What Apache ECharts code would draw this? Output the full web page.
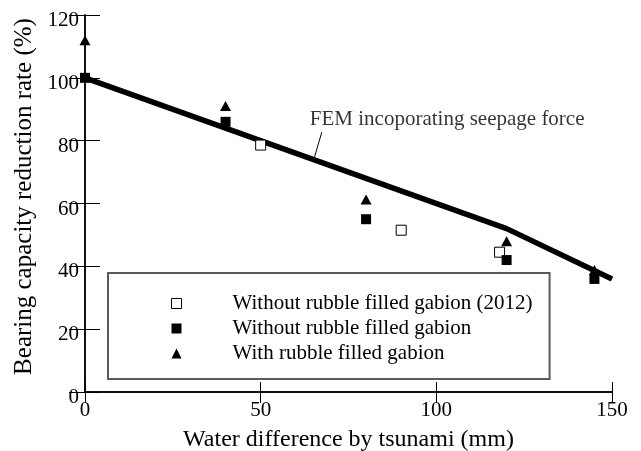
<!DOCTYPE html>
<html>
<head>
<meta charset="utf-8">
<script src="https://cdn.jsdelivr.net/npm/echarts@6/dist/echarts.min.js"></script>
<style>html,body{margin:0;padding:0;background:#fff;}#c{width:641px;height:451px;}</style>
</head>
<body>
<div id="c"></div>
<script>
// Data
var xTicksLabel = 'Water difference by tsunami (mm)';
var yTicksLabel = 'Bearing capacity reduction rate (%)';
var seriesNames = ['Without rubble filled gabion (2012)', 'Without rubble filled gabion', 'With rubble filled gabion'];

var open2012X = [50, 90, 118];
var open2012Y = [78.6, 51.5, 44.5];

var filledX = [0, 40, 80, 120, 145];
var filledY = [100, 86, 55, 42, 36];

var triX = [0, 40, 80, 120, 145];
var triY = [112, 91, 61.3, 48, 38.8];

var femX = [0, 120, 150];
var femY = [100, 52, 36];

var femLabel = 'FEM incoporating seepage force';
var femLabelX = [64];
var femLabelY = [86.8];
var leaderX = [65.3, 67.4];
var leaderY = [74.7, 82.7];

function zip(a, b) { return a.map(function (v, i) { return [v, b[i]]; }); }

var FONT = "'Liberation Serif','Times New Roman',serif";
var chart = echarts.init(document.getElementById('c'), null, {renderer: 'canvas'});

var axisLineStyle = {color: '#000', width: 1.5};

chart.setOption({
  animation: false,
  backgroundColor: '#fff',
  textStyle: {fontFamily: FONT, color: '#000'},
  grid: {left: 85, right: 29, top: 15, bottom: 59, containLabel: false, outerBoundsMode: 'none'},
  legend: {
    orient: 'vertical',
    left: 108, top: 273,
    padding: [20, 17, 15, 63],
    itemGap: 4,
    itemWidth: 10, itemHeight: 10,
    borderColor: '#5a5a5a', borderWidth: 2,
    backgroundColor: '#fff',
    itemStyle: {borderWidth: 1},
    data: seriesNames,
    textStyle: {fontFamily: FONT, fontSize: 21, color: '#000', lineHeight: 21, padding: [0, 0, 0, 46]}
  },
  xAxis: [{
    type: 'value', position: 'bottom', min: 0, max: 150, interval: 50,
    name: xTicksLabel, nameLocation: 'middle', nameGap: 36,
    nameTextStyle: {fontFamily: FONT, fontSize: 24, color: '#000'},
    axisLine: {show: true, lineStyle: axisLineStyle},
    axisTick: {show: true, inside: true, length: 10, lineStyle: {color: '#000', width: 1}},
    axisLabel: {fontFamily: FONT, fontSize: 21, color: '#000', margin: 8},
    splitLine: {show: false}
  }, {
    type: 'value', position: 'top', min: 0, max: 150, interval: 50,
    axisLine: {show: true, lineStyle: axisLineStyle},
    axisTick: {show: true, inside: true, length: 11, lineStyle: {color: '#000', width: 1}},
    axisLabel: {show: false},
    splitLine: {show: false}
  }],
  yAxis: [{
    type: 'value', position: 'left', min: 0, max: 120, interval: 20,
    name: yTicksLabel, nameLocation: 'middle', nameGap: 46,
    nameTextStyle: {fontFamily: FONT, fontSize: 25, color: '#000', padding: [0, 0, 0, 14]},
    axisLine: {show: true, lineStyle: axisLineStyle},
    axisTick: {show: true, inside: true, length: 15, lineStyle: {color: '#000', width: 1}},
    axisLabel: {fontFamily: FONT, fontSize: 21, color: '#000', margin: 6, verticalAlign: 'top', lineHeight: 11},
    splitLine: {show: false}
  }, {
    type: 'value', position: 'right', min: 0, max: 120, interval: 20,
    axisLine: {show: true, lineStyle: axisLineStyle},
    axisTick: {show: true, inside: true, length: 16, lineStyle: {color: '#000', width: 1}},
    axisLabel: {show: false},
    splitLine: {show: false}
  }],
  series: [{
    name: 'FEM', type: 'line', data: zip(femX, femY),
    symbol: 'none', lineStyle: {color: '#000', width: 5.5}, z: 2, silent: true
  }, {
    name: 'leader', type: 'line', data: zip(leaderX, leaderY),
    symbol: 'none', lineStyle: {color: '#000', width: 1}, z: 2, silent: true
  }, {
    name: 'femText', type: 'scatter', data: zip(femLabelX, femLabelY),
    symbolSize: 0, z: 3, silent: true,
    label: {show: true, position: 'right', distance: 0, formatter: femLabel,
      fontFamily: FONT, fontSize: 21, color: '#000', align: 'left', verticalAlign: 'middle'}
  }, {
    name: seriesNames[2], type: 'scatter', data: zip(triX, triY),
    symbol: 'triangle', symbolSize: [11, 10], z: 4,
    itemStyle: {color: '#000', opacity: 1}
  }, {
    name: seriesNames[0], type: 'scatter', data: zip(open2012X, open2012Y),
    symbol: 'rect', symbolSize: 10, z: 5,
    itemStyle: {color: '#fff', borderColor: '#000', borderWidth: 1, opacity: 1}
  }, {
    name: seriesNames[1], type: 'scatter', data: zip(filledX, filledY),
    symbol: 'rect', symbolSize: 10, z: 5,
    itemStyle: {color: '#000', opacity: 1}
  }]
});
</script>
</body>
</html>
